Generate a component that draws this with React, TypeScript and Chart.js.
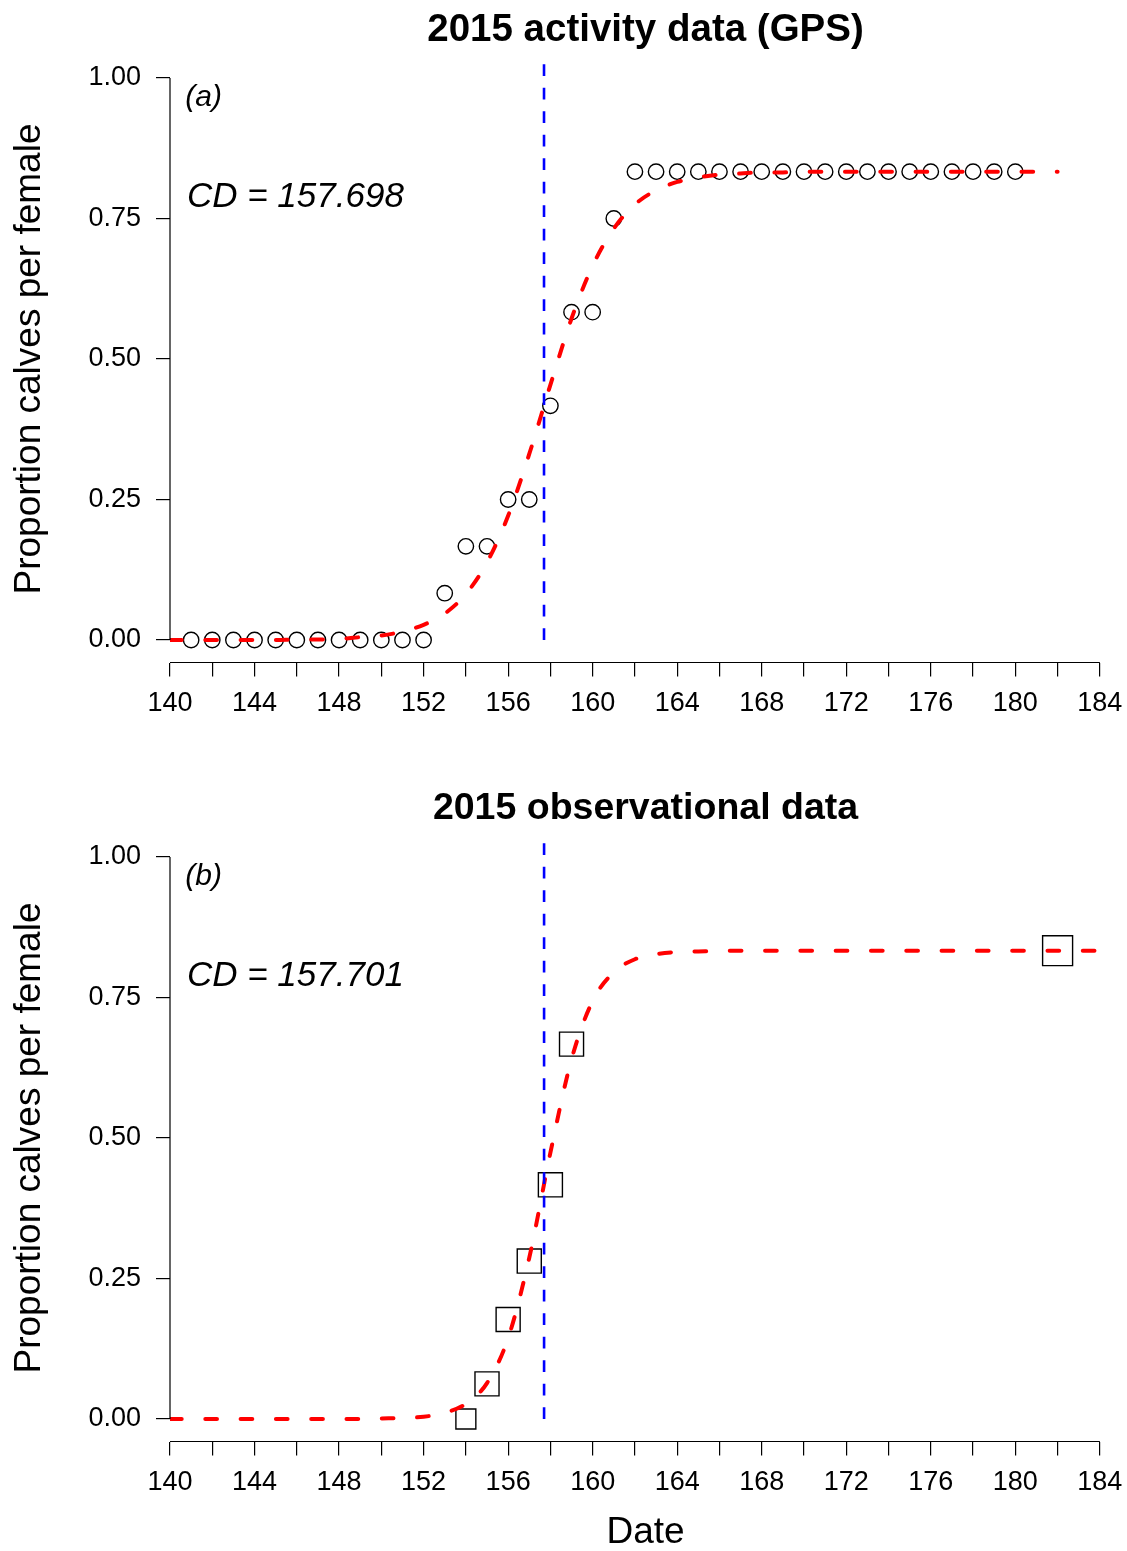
import React, { useEffect, useRef } from "react";
import { Chart, registerables } from "chart.js";

Chart.register(...registerables);

const FONT = "'Liberation Sans', Arial, Helvetica, sans-serif";

// ---------- axes ----------
const xTickValues = [140, 142, 144, 146, 148, 150, 152, 154, 156, 158, 160, 162, 164, 166, 168, 170, 172, 174, 176, 178, 180, 182, 184];
const xLabelEvery = 4;
const yTickValues = [0, 0.25, 0.5, 0.75, 1.0];
const X_MIN = 140;
const X_MAX = 185;
const Y_MIN = -0.04;
const Y_MAX = 1.04;

// ---------- panel (a): GPS activity data ----------
const gpsTitle = "2015 activity data (GPS)";
const gpsTag = "(a)";
const gpsCD = 157.698;
const gpsDays = [141, 142, 143, 144, 145, 146, 147, 148, 149, 150, 151, 152, 153, 154, 155, 156, 157, 158, 159, 160, 161, 162, 163, 164, 165, 166, 167, 168, 169, 170, 171, 172, 173, 174, 175, 176, 177, 178, 179, 180];
const gpsProportion = [0, 0, 0, 0, 0, 0, 0, 0, 0, 0, 0, 0, 0.0833, 0.1667, 0.1667, 0.25, 0.25, 0.4167, 0.5833, 0.5833, 0.75, 0.8333, 0.8333, 0.8333, 0.8333, 0.8333, 0.8333, 0.8333, 0.8333, 0.8333, 0.8333, 0.8333, 0.8333, 0.8333, 0.8333, 0.8333, 0.8333, 0.8333, 0.8333, 0.8333];
const gpsFitDays = [140, 141, 142, 143, 144, 145, 146, 147, 148, 149, 150, 151, 152, 153, 154, 155, 156, 157, 158, 159, 160, 161, 162, 163, 164, 165, 166, 167, 168, 169, 170, 171, 172, 173, 174, 175, 176, 177, 178, 179, 180, 181, 182];
const gpsFitValues = [0, 0, 0, 0, 0, 0, 0.001, 0.001, 0.002, 0.005, 0.008, 0.015, 0.027, 0.047, 0.082, 0.138, 0.221, 0.331, 0.454, 0.572, 0.666, 0.732, 0.775, 0.8, 0.815, 0.823, 0.828, 0.83, 0.832, 0.832, 0.833, 0.833, 0.833, 0.833, 0.833, 0.833, 0.833, 0.833, 0.833, 0.833, 0.833, 0.833, 0.833];

// ---------- panel (b): observational data ----------
const obsTitle = "2015 observational data";
const obsTag = "(b)";
const obsCD = 157.701;
const obsDays = [154, 155, 156, 157, 158, 159, 182];
const obsProportion = [0, 0.0625, 0.177, 0.281, 0.4167, 0.667, 0.8333];
const obsFitDays = [140, 141, 142, 143, 144, 145, 146, 147, 148, 149, 150, 151, 152, 153, 154, 155, 156, 157, 158, 159, 160, 161, 162, 163, 164, 165, 166, 167, 168, 169, 170, 171, 172, 173, 174, 175, 176, 177, 178, 179, 180, 181, 182, 183, 184];
const obsFitValues = [0, 0, 0, 0, 0, 0, 0, 0, 0, 0, 0.001, 0.002, 0.004, 0.011, 0.027, 0.064, 0.144, 0.287, 0.474, 0.64, 0.744, 0.795, 0.818, 0.827, 0.831, 0.832, 0.833, 0.833, 0.833, 0.833, 0.833, 0.833, 0.833, 0.833, 0.833, 0.833, 0.833, 0.833, 0.833, 0.833, 0.833, 0.833, 0.833, 0.833, 0.833];

// vertical CD reference line extent and annotation anchors (data units)
const CD_LINE_BOTTOM = 0;
const CD_LINE_TOP = 1.027;
const TAG_POS = { x: 140.72, y: 0.965 };
const CD_TEXT_POS = { x: 140.8, y: 0.787 };

// marker styles
const GPS_MARKER_RADIUS = 7.7;
const OBS_MARKER_RADII = [14.1, 17, 17, 17, 17, 17, 21.2];

const rAxesPlugin = {
  id: "rAxes",
  afterDraw(chart: any, _args: any, opts: any) {
    const { ctx, chartArea } = chart;
    const x = chart.scales.x;
    const y = chart.scales.y;
    ctx.save();
    ctx.strokeStyle = "#000";
    ctx.lineWidth = 1.2;
    ctx.beginPath();
    ctx.moveTo(x.getPixelForValue(xTickValues[0]), chartArea.bottom);
    ctx.lineTo(x.getPixelForValue(xTickValues[xTickValues.length - 1]), chartArea.bottom);
    ctx.moveTo(chartArea.left, y.getPixelForValue(yTickValues[0]));
    ctx.lineTo(chartArea.left, y.getPixelForValue(yTickValues[yTickValues.length - 1]));
    ctx.stroke();
    ctx.fillStyle = "#000";
    ctx.textAlign = "left";
    ctx.textBaseline = "middle";
    ctx.font = `italic 30px ${FONT}`;
    ctx.fillText(opts.tag, x.getPixelForValue(TAG_POS.x), y.getPixelForValue(TAG_POS.y));
    ctx.font = `italic 35px ${FONT}`;
    ctx.fillText(opts.cdText, x.getPixelForValue(CD_TEXT_POS.x), y.getPixelForValue(CD_TEXT_POS.y));
    ctx.restore();
  },
};

function makeConfig(p: {
  title: string;
  titleSize: number;
  tag: string;
  cd: number;
  days: number[];
  props: number[];
  fitDays: number[];
  fitVals: number[];
  pointStyle: string;
  radii: number | number[];
  canvasHeight: number;
  xTitle: string | null;
}): any {
  const bottomSpace = p.canvasHeight - 662.5;
  const titlePadTop = 30 - p.titleSize / 2;
  const titlePadBottom = 55.5 - p.titleSize - titlePadTop;
  return {
    type: "scatter",
    data: {
      datasets: [
        {
          label: "observed",
          data: p.days.map((d, i) => ({ x: d, y: p.props[i] })),
          showLine: false,
          pointStyle: p.pointStyle,
          pointRadius: p.radii,
          pointBorderWidth: 1.4,
          pointBorderColor: "#000",
          pointBackgroundColor: "rgba(0,0,0,0)",
          order: 3,
        },
        {
          label: "fit",
          data: p.fitDays.map((d, i) => ({ x: d, y: p.fitVals[i] })),
          showLine: true,
          pointRadius: 0,
          borderColor: "#ff0000",
          borderWidth: 4,
          borderDash: [11.7, 23.6],
          borderCapStyle: "round",
          cubicInterpolationMode: "monotone",
          order: 2,
        },
        {
          label: "CD",
          data: [
            { x: p.cd, y: CD_LINE_BOTTOM },
            { x: p.cd, y: CD_LINE_TOP },
          ],
          showLine: true,
          pointRadius: 0,
          borderColor: "#0000ff",
          borderWidth: 2.6,
          borderDash: [11.75, 11.75],
          borderCapStyle: "butt",
          tension: 0,
          order: 1,
        },
      ],
    },
    options: {
      responsive: false,
      animation: false,
      events: [],
      layout: { autoPadding: false, padding: { left: 0, right: 6, top: 0, bottom: 0 } },
      plugins: {
        legend: { display: false },
        tooltip: { enabled: false },
        title: {
          display: true,
          text: p.title,
          fullSize: false,
          align: "center",
          color: "#000",
          font: { family: FONT, size: p.titleSize, weight: "bold", lineHeight: 1 },
          padding: { top: titlePadTop, bottom: titlePadBottom },
        },
        rAxes: { tag: p.tag, cdText: `CD = ${p.cd.toFixed(3)}` },
      },
      scales: {
        x: {
          type: "linear",
          position: "bottom",
          min: X_MIN,
          max: X_MAX,
          afterBuildTicks: (scale: any) => {
            scale.ticks = xTickValues.map((v) => ({ value: v }));
          },
          afterFit: (scale: any) => {
            scale.height = bottomSpace;
            scale.paddingLeft = 0;
            scale.paddingRight = 0;
            scale.paddingTop = 0;
            scale.paddingBottom = 0;
          },
          ticks: {
            autoSkip: false,
            maxRotation: 0,
            color: "#000",
            padding: 11,
            font: { family: FONT, size: 27 },
            callback: (v: any) => (Number(v) % xLabelEvery === 0 ? String(v) : ""),
          },
          grid: {
            display: true,
            drawOnChartArea: false,
            drawTicks: true,
            tickLength: 14,
            color: "#000",
            lineWidth: 1.2,
          },
          border: { display: false },
          title: p.xTitle
            ? {
                display: true,
                text: p.xTitle,
                color: "#000",
                font: { family: FONT, size: 37, lineHeight: 1 },
                padding: { top: 0, bottom: 0 },
              }
            : { display: false },
        },
        y: {
          type: "linear",
          position: "left",
          min: Y_MIN,
          max: Y_MAX,
          afterBuildTicks: (scale: any) => {
            scale.ticks = yTickValues.map((v) => ({ value: v }));
          },
          afterFit: (scale: any) => {
            scale.width = 170;
            scale.paddingLeft = 0;
            scale.paddingRight = 0;
            scale.paddingTop = 0;
            scale.paddingBottom = 0;
          },
          ticks: {
            autoSkip: false,
            color: "#000",
            padding: 15,
            font: { family: FONT, size: 27 },
            callback: (v: any) => Number(v).toFixed(2),
          },
          grid: {
            display: true,
            drawOnChartArea: false,
            drawTicks: true,
            tickLength: 14,
            color: "#000",
            lineWidth: 1.2,
          },
          border: { display: false },
          title: {
            display: true,
            text: "Proportion calves per female",
            color: "#000",
            font: { family: FONT, size: 37, lineHeight: 1.2 },
            padding: { top: 8, bottom: 0 },
          },
        },
      },
    },
    plugins: [rAxesPlugin],
  };
}

function Panel(props: { config: any; top: number; height: number }) {
  const ref = useRef<HTMLCanvasElement | null>(null);
  useEffect(() => {
    if (!ref.current) return;
    const chart = new Chart(ref.current, props.config);
    return () => chart.destroy();
  }, []);
  return (
    <canvas
      ref={ref}
      width={1127}
      height={props.height}
      style={{ position: "absolute", left: 0, top: props.top, display: "block" }}
    />
  );
}

export default function App() {
  const heightA = 779;
  const heightB = 772;
  const configA = makeConfig({
    title: gpsTitle,
    titleSize: 38.5,
    tag: gpsTag,
    cd: gpsCD,
    days: gpsDays,
    props: gpsProportion,
    fitDays: gpsFitDays,
    fitVals: gpsFitValues,
    pointStyle: "circle",
    radii: GPS_MARKER_RADIUS,
    canvasHeight: heightA,
    xTitle: null,
  });
  const configB = makeConfig({
    title: obsTitle,
    titleSize: 37.5,
    tag: obsTag,
    cd: obsCD,
    days: obsDays,
    props: obsProportion,
    fitDays: obsFitDays,
    fitVals: obsFitValues,
    pointStyle: "rect",
    radii: OBS_MARKER_RADII,
    canvasHeight: heightB,
    xTitle: "Date",
  });
  return (
    <div
      style={{
        position: "fixed",
        left: 0,
        top: 0,
        width: 1127,
        height: 1551,
        background: "#fff",
        overflow: "hidden",
      }}
    >
      <Panel config={configA} top={0} height={heightA} />
      <Panel config={configB} top={heightA} height={heightB} />
    </div>
  );
}
